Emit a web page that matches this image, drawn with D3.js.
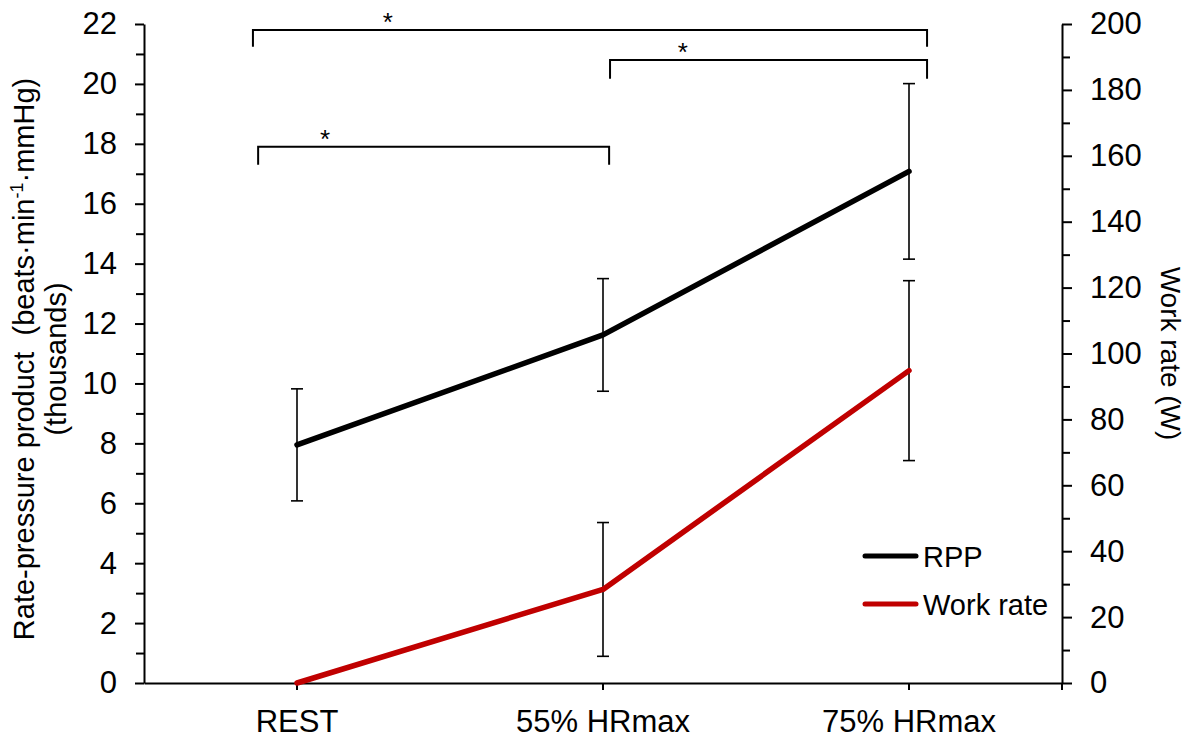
<!DOCTYPE html>
<html>
<head>
<meta charset="utf-8">
<script src="https://cdn.jsdelivr.net/npm/d3@7/dist/d3.min.js"></script>
<style>
  html, body { margin: 0; padding: 0; background: #fff; }
  svg { display: block; font-family: Arial, "Liberation Sans", sans-serif; }
</style>
</head>
<body>
<svg id="chart" width="1202" height="738"></svg>
<script>
// ---- data ----
const categories = ["REST", "55% HRmax", "75% HRmax"];
const rppMean = [7.95, 11.62, 17.08];
const rppErr = [1.87, 1.88, 2.93];
const workMean = [0, 28.4, 94.8];
const workErr = [0, 20.3, 27.3];
const leftTicks = [0, 2, 4, 6, 8, 10, 12, 14, 16, 18, 20, 22];
const rightTicks = [0, 20, 40, 60, 80, 100, 120, 140, 160, 180, 200];
const legendLabels = ["RPP", "Work rate"];
// significance brackets: x in category units (0..3), y in left-axis units
const brackets = [
  { x1: 0.356, x2: 2.559, y: 21.8, leg: 21.24, starX: 0.797 },
  { x1: 1.523, x2: 2.559, y: 20.8, leg: 20.17, starX: 1.761 },
  { x1: 0.373, x2: 1.520, y: 17.9, leg: 17.3, starX: 0.592 }
];

// ---- layout ----
const svg = d3.select("#chart");
const L = 144, R = 1062, T = 24, B = 683;
const black = "#000", red = "#C00000";

const x = d3.scaleBand().domain(categories).range([L, R]).padding(0);
const xc = d => x(d) + x.bandwidth() / 2;
const xu = d3.scaleLinear().domain([0, 3]).range([L, R]);
const yL = d3.scaleLinear().domain([0, 22]).range([B, T]);
const yR = d3.scaleLinear().domain([0, 200]).range([B, T]);

// left axis
const leftAxis = svg.append("g").attr("transform", `translate(${L},0)`)
  .call(d3.axisLeft(yL).tickValues(leftTicks).tickSize(9).tickPadding(18).tickSizeOuter(0));
svg.append("g").attr("transform", `translate(${L},0)`)
  .call(d3.axisLeft(yL).tickValues(d3.range(1, 22, 2)).tickSize(8).tickFormat("").tickSizeOuter(0))
  .select(".domain").remove();

// right axis
const rightAxis = svg.append("g").attr("transform", `translate(${R},0)`)
  .call(d3.axisRight(yR).tickValues(rightTicks).tickSize(10).tickPadding(18).tickSizeOuter(0));
svg.append("g").attr("transform", `translate(${R},0)`)
  .call(d3.axisRight(yR).tickValues(d3.range(10, 200, 20)).tickSize(8).tickFormat("").tickSizeOuter(0))
  .select(".domain").remove();

// bottom axis
const bottomAxis = svg.append("g").attr("transform", `translate(0,${B})`)
  .call(d3.axisBottom(x).tickSize(7).tickPadding(20).tickSizeOuter(0));
svg.append("line").attr("x1", R).attr("x2", R).attr("y1", B).attr("y2", B + 7)
  .attr("stroke", black).attr("stroke-width", 2);

svg.selectAll(".domain").attr("stroke", black).attr("stroke-width", 2);
svg.selectAll(".tick line").attr("stroke", black).attr("stroke-width", 2);
svg.selectAll(".tick text").attr("font-size", 31).attr("fill", black)
  .attr("font-family", "Arial, 'Liberation Sans', sans-serif");

// y titles
const yt = svg.append("text")
  .attr("transform", `translate(0,359) rotate(-90)`)
  .attr("text-anchor", "middle").attr("font-size", 29).attr("fill", black);
const t1 = yt.append("tspan").attr("x", 0).attr("y", 34);
t1.append("tspan").text("Rate-pressure product\u00a0\u00a0(beats\u00b7min");
t1.append("tspan").attr("font-size", 18).attr("dy", -11).text("-1");
t1.append("tspan").attr("dy", 11).text("\u00b7mmHg)");
yt.append("tspan").attr("x", 0).attr("y", 66).text("(thousands)");

svg.append("text")
  .attr("transform", `translate(1161,${(T + B) / 2}) rotate(90)`)
  .attr("text-anchor", "middle").attr("font-size", 28).attr("fill", black)
  .text("Work rate (W)");

// error bars
function errorBars(means, errs, yScale) {
  const g = svg.append("g").attr("stroke", black).attr("stroke-width", 1.6).attr("fill", "none");
  categories.forEach((c, i) => {
    if (!errs[i]) return;
    const cx = xc(c), y1 = yScale(means[i] + errs[i]), y2 = yScale(means[i] - errs[i]);
    g.append("line").attr("x1", cx).attr("x2", cx).attr("y1", y1).attr("y2", y2);
    g.append("line").attr("x1", cx - 6).attr("x2", cx + 6).attr("y1", y1).attr("y2", y1);
    g.append("line").attr("x1", cx - 6).attr("x2", cx + 6).attr("y1", y2).attr("y2", y2);
  });
}
errorBars(rppMean, rppErr, yL);
errorBars(workMean, workErr, yR);

// lines
const lineL = d3.line().x((d, i) => xc(categories[i])).y(d => yL(d));
const lineR = d3.line().x((d, i) => xc(categories[i])).y(d => yR(d));
svg.append("path").datum(workMean).attr("d", lineR).attr("fill", "none")
  .attr("stroke", red).attr("stroke-width", 5.5).attr("stroke-linejoin", "round").attr("stroke-linecap", "round");
svg.append("path").datum(rppMean).attr("d", lineL).attr("fill", "none")
  .attr("stroke", black).attr("stroke-width", 5.5).attr("stroke-linejoin", "round").attr("stroke-linecap", "round");

// significance brackets
const bg = svg.append("g");
brackets.forEach(b => {
  bg.append("path")
    .attr("d", `M${xu(b.x1)},${yL(b.leg)}V${yL(b.y)}H${xu(b.x2)}V${yL(b.leg)}`)
    .attr("fill", "none").attr("stroke", black).attr("stroke-width", 2);
  bg.append("text").attr("x", xu(b.starX)).attr("y", yL(b.y) + 1)
    .attr("text-anchor", "middle").attr("font-size", 26).attr("fill", black).text("*");
});

// legend
const legColors = [black, red];
const lg = svg.append("g");
legendLabels.forEach((lab, i) => {
  const yy = 556 + i * 48;
  lg.append("line").attr("x1", 865).attr("x2", 916).attr("y1", yy).attr("y2", yy)
    .attr("stroke", legColors[i]).attr("stroke-width", 5).attr("stroke-linecap", "round");
  lg.append("text").attr("x", 923).attr("y", yy + 11).attr("font-size", 29).attr("fill", black).text(lab);
});
</script>
</body>
</html>
